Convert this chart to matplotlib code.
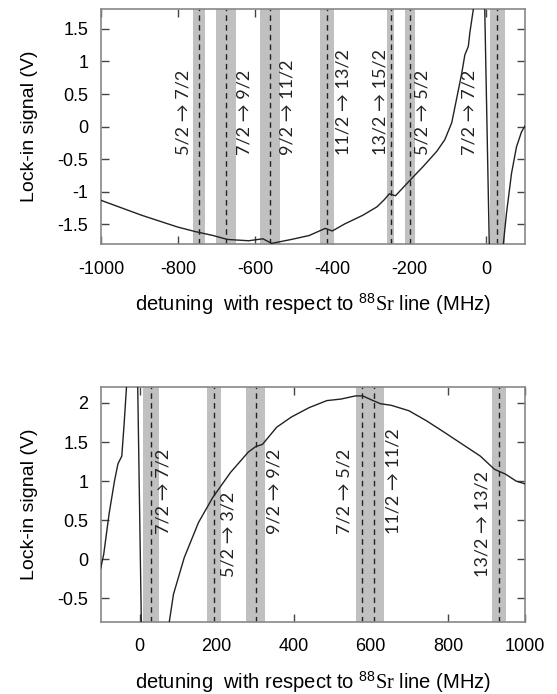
import numpy as np
import matplotlib
matplotlib.use("Agg")
import matplotlib.pyplot as plt

plt.rcParams['font.family'] = ['Liberation Sans', 'DejaVu Sans']
plt.rcParams['axes.unicode_minus'] = False
plt.rcParams['mathtext.fontset'] = 'custom'
plt.rcParams['mathtext.rm'] = 'Liberation Serif'
plt.rcParams['mathtext.sf'] = 'Liberation Sans'

# panel 1: negative detuning
det1 = [-1000, -894, -801, -755, -709, -672, -617, -580, -557, -506, -460, -418,
        -400, -367, -321, -284, -265, -252, -236, -198, -164, -129, -108, -90,
        -78, -64, -56, -47, -43, -34, -32, -5, 8, 43, 52, 65, 78, 91, 100]
sig1 = [-1.13, -1.36, -1.54, -1.61, -1.67, -1.73, -1.75, -1.72, -1.79, -1.73,
        -1.67, -1.56, -1.60, -1.49, -1.36, -1.23, -1.12, -1.03, -1.06, -0.82,
        -0.61, -0.38, -0.20, 0.06, 0.41, 0.82, 1.10, 1.23, 1.44, 1.80, 2.0,
        2.0, -2.0, -1.85, -1.33, -0.72, -0.31, -0.08, 0.01]
lines1 = [-746, -676, -562, -413, -248, -198, 28]
width1 = [32, 50, 52, 36, 18, 24, 39]
labels1 = ['5/2 → 7/2', '7/2 → 9/2', '9/2 → 11/2', '11/2 → 13/2',
           '13/2 → 15/2', '5/2 → 5/2', '7/2 → 7/2']
labx1 = [-786, -628, -515, -372, -276, -167, -45]
laby1 = [-0.43] * 7

# panel 2: positive detuning
det2 = [-104, -93, -79, -65, -56, -46, -40, -34, -33, -5, 5, 77, 88, 116, 153,
        190, 236, 282, 301, 319, 356, 394, 440, 486, 523, 560, 579, 606, 625,
        653, 699, 745, 792, 838, 884, 921, 949, 977, 1003]
sig2 = [-0.19, 0.06, 0.58, 1.0, 1.22, 1.32, 1.73, 2.19, 2.3, 2.3, -0.9, -0.81,
        -0.45, 0.02, 0.47, 0.79, 1.11, 1.37, 1.44, 1.47, 1.69, 1.82, 1.94,
        2.03, 2.05, 2.09, 2.09, 2.03, 1.99, 1.97, 1.90, 1.77, 1.62, 1.47,
        1.32, 1.15, 1.09, 1.00, 0.96]
lines2 = [29, 193, 301, 576, 609, 933]
width2 = [42, 35, 50, 30, 50, 37]
labels2 = ['7/2 → 7/2', '5/2 → 3/2', '9/2 → 9/2', '7/2 → 5/2',
           '11/2 → 11/2', '13/2 → 13/2']
labx2 = [62, 231, 349, 532, 659, 891]
laby2 = [0.32, -0.23, 0.32, 0.32, 0.32, -0.23]

fig = plt.figure(figsize=(5.57, 6.94), dpi=100)
ax1 = fig.add_axes([0.1813, 0.6484, 0.7612, 0.3382])
ax2 = fig.add_axes([0.1813, 0.1042, 0.7612, 0.3377])

panels = [
    (ax1, det1, sig1, lines1, width1, labels1, labx1, laby1,
     (-1000, 100), (-1.8, 1.8), np.arange(-1000, 1, 200), [-1.5, -1, -0.5, 0, 0.5, 1, 1.5]),
    (ax2, det2, sig2, lines2, width2, labels2, labx2, laby2,
     (-100, 1000), (-0.8, 2.2), np.arange(0, 1001, 200), [-0.5, 0, 0.5, 1, 1.5, 2]),
]

for ax, d, s, ln, w, lab, lx, ly, xl, yl, xt, yt in panels:
    ax.set_axisbelow(True)
    for c, wd in zip(ln, w):
        ax.axvspan(c - wd / 2, c + wd / 2, color='#c0c0c0', lw=0, zorder=1)
    for c in ln:
        ax.axvline(c, color='#222222', lw=1.0, ls=(0, (4, 3)), zorder=2)
    ax.plot(d, s, color='#222222', lw=1.0, zorder=3)
    for t, x, y in zip(lab, lx, ly):
        ax.text(x, y, t, rotation=90, ha='center', va='bottom', fontsize=13,
                family=['Lato', 'DejaVu Sans'], color='#222222', zorder=4)
    ax.set_xlim(xl)
    ax.set_ylim(yl)
    ax.set_xticks(xt)
    ax.set_yticks(yt)
    ax.set_yticklabels([('%g' % v) for v in yt])
    ax.tick_params(direction='in', length=6, width=1, color='#444444',
                   top=True, right=True, labelsize=13, pad=9)
    ax.tick_params(axis='x', pad=12)
    for sp in ax.spines.values():
        sp.set_color('#888888')
        sp.set_linewidth(1.2)
    ax.set_ylabel('Lock-in signal (V)', fontsize=14, labelpad=14)
    ax.set_xlabel(r'detuning  with respect to $^{\mathsf{88}}\mathrm{Sr}$ line (MHz)',
                  fontsize=14.5, labelpad=10)

fig.savefig('out.png', dpi=100)
